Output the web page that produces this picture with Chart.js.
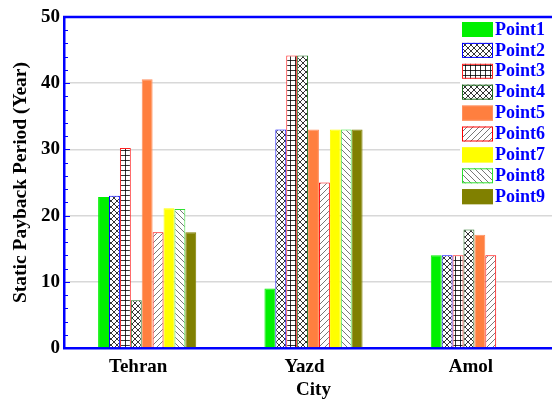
<!DOCTYPE html>
<html>
<head>
<meta charset="utf-8">
<script src="https://cdn.jsdelivr.net/npm/chart.js@4.4.1/dist/chart.umd.min.js"></script>
<style>
  html, body { margin: 0; padding: 0; background: #fff; overflow: hidden; width: 552px; height: 401px; }
  #wrap { position: relative; width: 563px; height: 401px; }
</style>
</head>
<body>
<div id="wrap"><canvas id="chart"></canvas></div>
<script>
// data
const cities = ['Tehran', 'Yazd', 'Amol'];
const seriesNames = ['Point1', 'Point2', 'Point3', 'Point4', 'Point5', 'Point6', 'Point7', 'Point8', 'Point9'];
const point1 = [22.8, 9.0, 14.0];
const point2 = [23.0, 33.0, 14.0];
const point3 = [30.2, 44.2, 14.0];
const point4 = [7.2, 44.2, 17.9];
const point5 = [40.6, 33.0, 17.1];
const point6 = [17.5, 25.0, 14.0];
const point7 = [21.1, 33.0, null];
const point8 = [21.0, 33.0, null];
const point9 = [17.5, 33.0, null];
const yTicks = [0, 10, 20, 30, 40, 50];

const SERIF = '"Liberation Serif", "DejaVu Serif", serif';

function makePattern(kind) {
    const size = kind === 'grid' ? 5 : 6;
    const c = document.createElement('canvas');
    c.width = size; c.height = size;
    const g = c.getContext('2d');
    g.fillStyle = '#fff';
    g.fillRect(0, 0, size, size);
    g.strokeStyle = kind === 'fwd' || kind === 'back' ? '#555' : '#000';
    g.lineWidth = 0.8;
    g.beginPath();
    if (kind === 'grid') {
        g.moveTo(0, 0.5); g.lineTo(size, 0.5);
        g.moveTo(0.5, 0); g.lineTo(0.5, size);
    }
    if (kind === 'cross' || kind === 'fwd') {
        g.moveTo(0, size); g.lineTo(size, 0);
        g.moveTo(-1, 1); g.lineTo(1, -1);
        g.moveTo(size - 1, size + 1); g.lineTo(size + 1, size - 1);
    }
    if (kind === 'cross' || kind === 'back') {
        g.moveTo(0, 0); g.lineTo(size, size);
        g.moveTo(size - 1, -1); g.lineTo(size + 1, 1);
        g.moveTo(-1, size - 1); g.lineTo(1, size + 1);
    }
    g.stroke();
    return g.createPattern(c, 'repeat');
}

const ctx = document.getElementById('chart').getContext('2d');

const fills = [
    '#00f000', makePattern('cross'), makePattern('grid'), makePattern('cross'),
    '#ff7f3f', makePattern('fwd'), '#ffff00', makePattern('back'), '#808000'
];
const borders = [
    '#00f000', '#0000ff', '#ff2020', '#207020',
    '#ff9060', '#ff0000', '#ffff00', '#30e030', '#808000'
];
const values = [point1, point2, point3, point4, point5, point6, point7, point8, point9];

// inside tick marks, top frame line, and boxed legend
const framePlugin = {
    id: 'frame',
    afterDraw(chart) {
        const { ctx, chartArea } = chart;
        const y = chart.scales.y;
        ctx.save();
        ctx.strokeStyle = '#0000ff';
        ctx.lineWidth = 1;
        for (let v = 2; v < 50; v += 2) {
            const py = Math.round(y.getPixelForValue(v)) + 0.5;
            ctx.beginPath();
            ctx.moveTo(chartArea.left, py);
            ctx.lineTo(chartArea.left + (v % 10 === 0 ? 6 : 4), py);
            ctx.stroke();
        }
        ctx.lineWidth = 2.5;
        ctx.beginPath();
        ctx.moveTo(chartArea.left - 1, chartArea.top);
        ctx.lineTo(chartArea.right, chartArea.top);
        ctx.stroke();

        // legend
        const lx = 460, ly = 19;
        ctx.fillStyle = '#fff';
        ctx.fillRect(lx, ly, 120, 194);
        ctx.font = 'bold 18px ' + SERIF;
        ctx.textBaseline = 'middle';
        ctx.textAlign = 'left';
        chart.data.datasets.forEach((ds, i) => {
            const cy = 29 + i * 20.9;
            ctx.fillStyle = ds.backgroundColor;
            ctx.fillRect(lx + 2, cy - 7, 31, 15);
            ctx.strokeStyle = ds.borderColor;
            ctx.lineWidth = 1;
            ctx.strokeRect(lx + 2.5, cy - 6.5, 30, 14);
            ctx.fillStyle = '#0000ff';
            ctx.fillText(ds.label, lx + 35, cy + 1);
        });
        ctx.restore();
    }
};

new Chart(ctx, {
    type: 'bar',
    data: {
        labels: cities,
        datasets: seriesNames.map((name, i) => ({
            label: name,
            data: values[i],
            backgroundColor: fills[i],
            borderColor: borders[i],
            borderWidth: 1,
            borderSkipped: 'bottom',
            categoryPercentage: 0.59,
            barPercentage: 1
        }))
    },
    options: {
        responsive: true,
        maintainAspectRatio: false,
        animation: false,
        layout: { padding: { top: 17, right: 0, left: 0, bottom: 0 } },
        plugins: {
            legend: { display: false },
            tooltip: { enabled: false }
        },
        scales: {
            x: {
                grid: { display: false },
                border: { color: '#0000ff', width: 2.5 },
                ticks: {
                    color: '#000',
                    font: { family: SERIF, size: 19, weight: 'bold' },
                    padding: 0,
                    labelOffset: -9
                },
                title: {
                    display: true,
                    text: 'City',
                    color: '#000',
                    font: { family: SERIF, size: 19, weight: 'bold' },
                    padding: { top: 5, bottom: 0 }
                },
                afterFit(scale) { scale.height = 53; }
            },
            y: {
                min: 0,
                max: 50,
                afterBuildTicks(scale) { scale.ticks = yTicks.map(v => ({ value: v })); },
                grid: {
                    color: c => (c.tick && (c.tick.value === 0 || c.tick.value === 50)) ? 'rgba(0,0,0,0)' : '#d8d8d8',
                    lineWidth: 1.5,
                    drawTicks: false
                },
                border: { color: '#0000ff', width: 2.5 },
                ticks: {
                    color: '#000',
                    font: { family: SERIF, size: 19, weight: 'bold' },
                    padding: 4
                },
                title: {
                    display: true,
                    text: 'Static Payback Period (Year)',
                    color: '#000',
                    font: { family: SERIF, size: 19.5, weight: 'bold' },
                    padding: { top: 9, bottom: 0 }
                },
                afterFit(scale) { scale.width = 64; }
            }
        }
    },
    plugins: [framePlugin]
});
</script>
</body>
</html>
